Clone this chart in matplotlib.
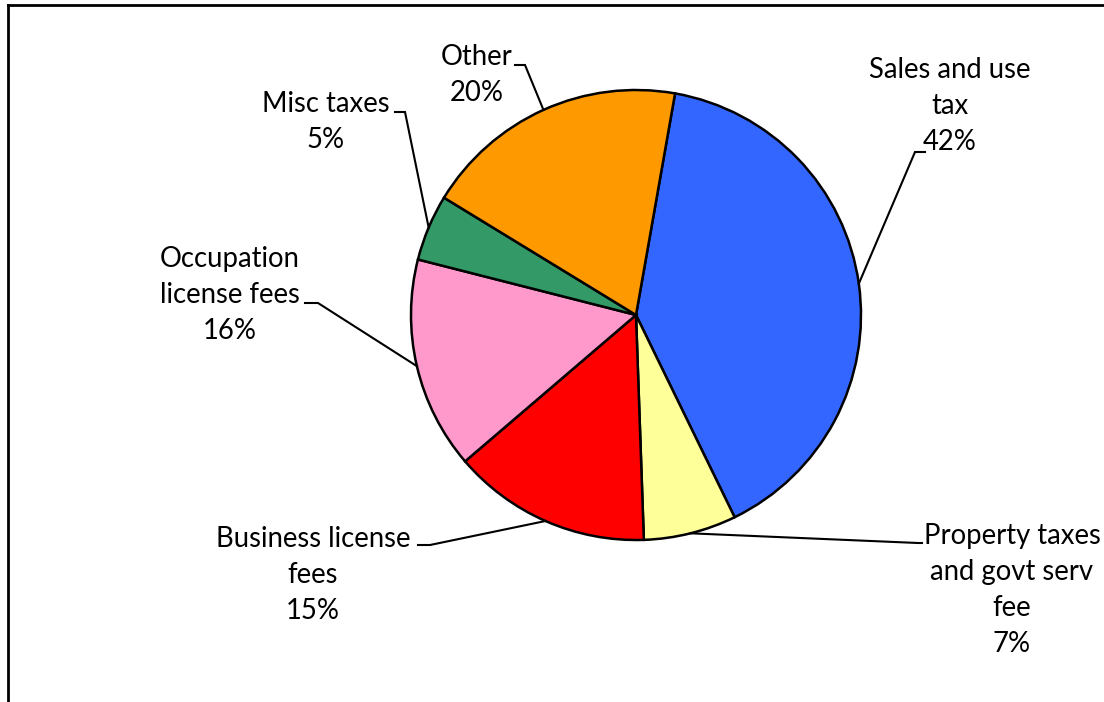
import matplotlib
matplotlib.use("Agg")
import matplotlib.pyplot as plt
import numpy as np
from matplotlib.lines import Line2D

# Revenue sources (shares in percent), clockwise from the top
categories = ["Sales and use\ntax", "Property taxes\nand govt serv\nfee",
              "Business license\nfees", "Occupation\nlicense fees",
              "Misc taxes", "Other"]
shares = [42, 7, 15, 16, 5, 20]
colors = ["#3366FF", "#FFFF99", "#FF0000", "#FF99CC", "#339966", "#FF9900"]

W, H = 1104, 702
CX, CY, R = 636, 315, 225  # pie centre and radius in pixels


def px(x, y):
    """Pixel position -> data units (pie radius = 1)."""
    return (x - CX) / R, (CY - y) / R


# label text centre and leader elbow, in pixels
label_pos = [(950, 106), (1012, 590), (313, 575), (230, 295), (326, 122), (477, 75)]
elbow_pos = [(915, 152), (918, 543), (430, 545), (318, 303), (405, 112), (525, 65)]
elbow_end = [(925, 152), (922, 543), (418, 545), (305, 303), (395, 112), (515, 65)]

plt.rcParams["font.family"] = ["Lato", "DejaVu Sans"]
fig = plt.figure(figsize=(W / 100, H / 100), dpi=100)
ax = fig.add_axes([0, 0, 1, 1])

wedges, _ = ax.pie(shares, colors=colors, startangle=80, counterclock=False,
                   radius=1, center=(0, 0),
                   wedgeprops=dict(edgecolor="black", linewidth=1.8))

x0, y1 = px(0, 0)
x1, y0 = px(W, H)
ax.set_xlim(x0, x1)
ax.set_ylim(y0, y1)
ax.set_aspect("equal", adjustable="datalim")
ax.axis("off")

for w, name, v, lp, ep, ee in zip(wedges, categories, shares, label_pos, elbow_pos, elbow_end):
    mid = np.deg2rad((w.theta1 + w.theta2) / 2)
    ax_, ay_ = np.cos(mid), np.sin(mid)
    exy = px(*ep)
    eexy = px(*ee)
    ax.add_line(Line2D([ax_, exy[0], eexy[0]], [ay_, exy[1], eexy[1]],
                       color="black", linewidth=1.5, solid_joinstyle="miter"))
    tx, ty = px(*lp)
    ax.text(tx, ty, f"{name}\n{v}%", ha="center", va="center",
            fontsize=19.8, linespacing=1.47, color="black")

# chart frame
fig.add_artist(Line2D([8 / W, 1.0], [1 - 5 / H, 1 - 5 / H], transform=fig.transFigure,
                      color="black", linewidth=2))
fig.add_artist(Line2D([8 / W, 8 / W], [0, 1 - 5 / H], transform=fig.transFigure,
                      color="black", linewidth=2))

fig.savefig("out.png", dpi=100)
